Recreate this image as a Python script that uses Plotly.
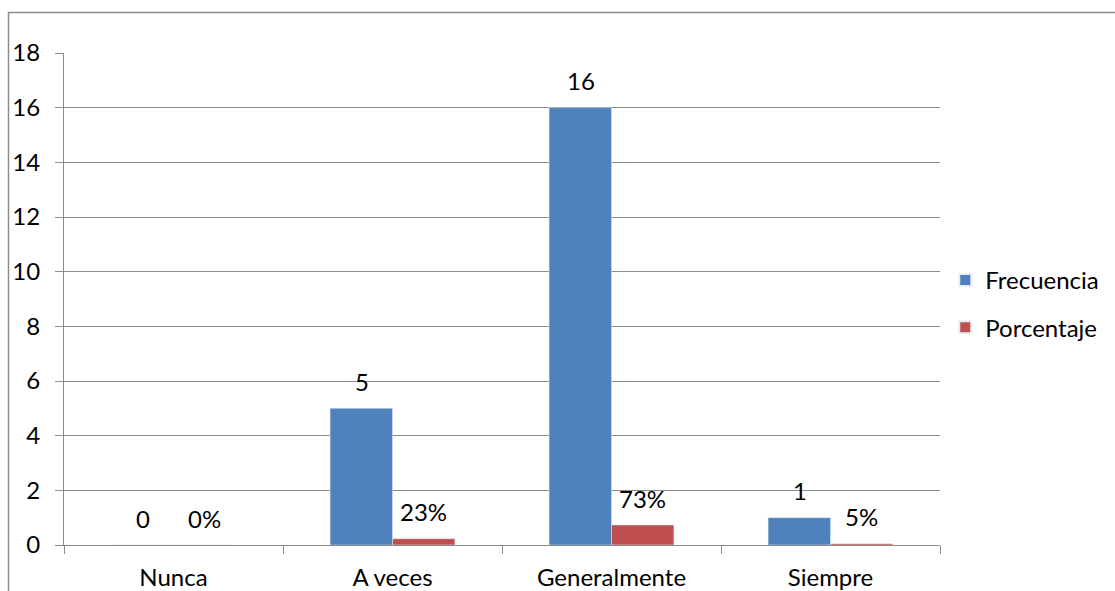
import plotly.graph_objects as go

categories = ["Nunca", "A veces", "Generalmente", "Siempre"]
frecuencia = [0, 5, 16, 1]
porcentaje = [0.0, 0.23, 0.73, 0.05]
frec_labels = ["0", "5", "16", "1"]
porc_labels = ["0%", "23%", "73%", "5%"]

FONT = "Lato"
FS = 24
BLUE = "#4F81BD"
RED = "#C0504D"
GRID = "#8C8C8C"

fig = go.Figure()
fig.add_trace(go.Bar(name="Frecuencia", x=categories, y=frecuencia, marker_color=BLUE,
                     legendgroup="f"))
fig.add_trace(go.Bar(name="Porcentaje", x=categories, y=porcentaje, marker_color=RED,
                     legendgroup="p"))

annotations = []
for c, v, t in zip(categories, frecuencia, frec_labels):
    annotations.append(dict(x=c, y=v, text=t, xref="x", yref="y", showarrow=False,
                            xshift=-31, yshift=27, font=dict(family=FONT, size=FS, color="#000")))
for c, v, t in zip(categories, porcentaje, porc_labels):
    annotations.append(dict(x=c, y=v, text=t, xref="x", yref="y", showarrow=False,
                            xshift=31, yshift=27, font=dict(family=FONT, size=FS, color="#000")))

fig.update_layout(
    width=1115, height=591,
    margin=dict(l=64, r=175, t=53, b=46, autoexpand=False),
    paper_bgcolor="white", plot_bgcolor="white",
    barmode="group", bargap=0.43, bargroupgap=0,
    font=dict(family=FONT, size=FS, color="#000"),
    annotations=annotations,
    legend=dict(x=1.006, y=0.49, xanchor="left", yanchor="middle",
                font=dict(family=FONT, size=FS), tracegroupgap=13,
                traceorder="grouped", itemsizing="constant"),
    shapes=[dict(type="rect", xref="paper", yref="paper",
                 x0=(8.5 - 64) / 876, x1=2, y0=-1, y1=(545 - 12.5) / 492,
                 line=dict(color="#8C8C8C", width=1.5), layer="below")],
)
fig.update_xaxes(showline=True, linecolor=GRID, linewidth=1, ticks="outside",
                 tickson="boundaries", ticklen=8, tickcolor=GRID, showgrid=False,
                 ticklabelstandoff=11, automargin=False,
                 tickfont=dict(family=FONT, size=FS))
fig.update_yaxes(range=[0, 18], dtick=2, showline=True, linecolor=GRID, linewidth=1,
                 ticks="outside", ticklen=8, tickcolor=GRID, showgrid=True,
                 gridcolor=GRID, gridwidth=1, zeroline=False,
                 ticklabelstandoff=10, automargin=False,
                 tickfont=dict(family=FONT, size=FS))

fig.write_html("out.html")
